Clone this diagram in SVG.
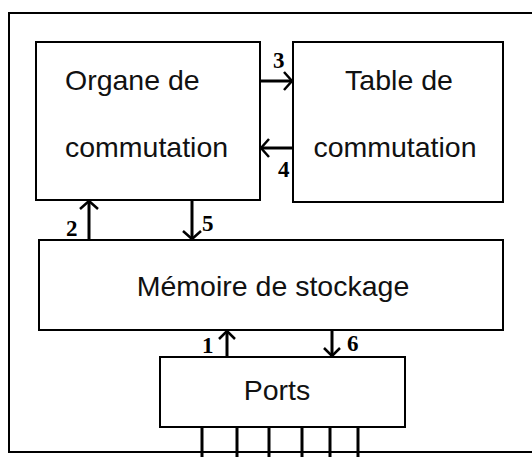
<svg xmlns="http://www.w3.org/2000/svg" width="532" height="457" viewBox="0 0 532 457">
<style>
.box{fill:#fff;stroke:#000;stroke-width:2}
.frame{fill:none;stroke:#000;stroke-width:2}
.t{font-family:"Liberation Sans",Arial,sans-serif;font-size:28.5px;fill:#111;text-anchor:middle}
.lbl{font-family:"Liberation Serif","Times New Roman",serif;font-size:23px;font-weight:bold;fill:#000}
.ln{stroke:#000;stroke-width:3;fill:none}
.hd{stroke:#000;stroke-width:2.5;fill:none;stroke-linejoin:miter}
</style>
<rect width="532" height="457" fill="#fff"/>
<path class="frame" d="M540 13 H9 V452 H540"/>
<g id="organe">
<rect class="box" x="36" y="42" width="224" height="158"/>
<text class="t" x="65" y="90" style="text-anchor:start">Organe de</text>
<text class="t" x="65" y="157" style="text-anchor:start">commutation</text>
</g>
<g id="table">
<rect class="box" x="293" y="42" width="210" height="160"/>
<text class="t" x="399" y="90">Table de</text>
<text class="t" x="395" y="157">commutation</text>
</g>
<g id="memoire">
<rect class="box" x="39" y="240" width="464" height="90"/>
<text class="t" x="273" y="296">Mémoire de stockage</text>
</g>
<g id="ports">
<rect class="box" x="160" y="357" width="245" height="70"/>
<text class="t" x="277" y="400">Ports</text>
</g>
<g id="connectors">
<line class="ln" x1="260" y1="81" x2="292" y2="81"/>
<polyline class="hd" points="284,72 292,81 284,90"/>
<text class="lbl" x="273" y="68">3</text>
<line class="ln" x1="293" y1="148" x2="261" y2="148"/>
<polyline class="hd" points="269,139 261,148 269,157"/>
<text class="lbl" x="278" y="177">4</text>
<line class="ln" x1="89" y1="240" x2="89" y2="201"/>
<polyline class="hd" points="80,209 89,201 98,209"/>
<text class="lbl" x="66" y="236">2</text>
<line class="ln" x1="192" y1="200" x2="192" y2="239"/>
<polyline class="hd" points="183,231 192,239 201,231"/>
<text class="lbl" x="202" y="231">5</text>
<line class="ln" x1="227" y1="357" x2="227" y2="331"/>
<polyline class="hd" points="219,339 227,331 235,339"/>
<text class="lbl" x="202" y="353">1</text>
<line class="ln" x1="332" y1="330" x2="332" y2="356"/>
<polyline class="hd" points="324,348 332,356 340,348"/>
<text class="lbl" x="347" y="351">6</text>
<line class="ln" x1="202" y1="427" x2="202" y2="457"/>
<line class="ln" x1="237" y1="427" x2="237" y2="457"/>
<line class="ln" x1="269" y1="427" x2="269" y2="457"/>
<line class="ln" x1="302" y1="427" x2="302" y2="457"/>
<line class="ln" x1="330" y1="427" x2="330" y2="457"/>
<line class="ln" x1="358" y1="427" x2="358" y2="457"/>
</g>
</svg>
